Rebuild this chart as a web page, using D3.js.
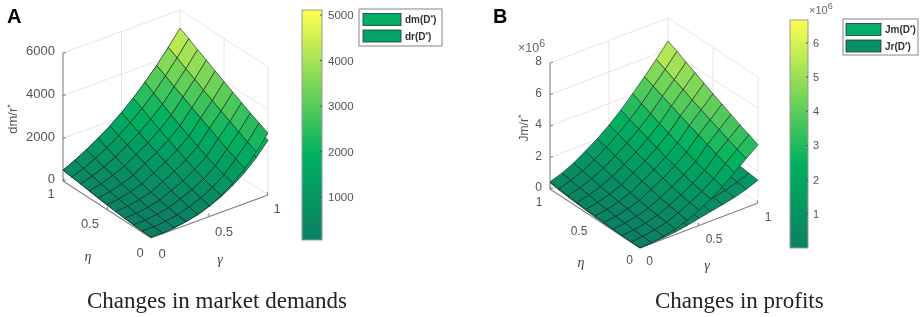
<!DOCTYPE html>
<html><head><meta charset="utf-8">
<style>html,body{margin:0;padding:0;background:#fff}svg{display:block;filter:blur(0.35px)}</style>
<script src="https://cdn.jsdelivr.net/npm/d3@7/dist/d3.min.js"></script>
</head><body><div id="chart"></div>
<script>
// ---- data ----
const gridSteps = [0,0.1,0.2,0.3,0.4,0.5,0.6,0.7,0.8,0.9,1];
const axisTicks = [0,0.5,1];
const zTicksA = [0,2000,4000,6000];
const zTicksB = [0,2,4,6,8];
const barTicksA = [1000,2000,3000,4000,5000];
const barTicksB = [1,2,3,4,5,6];
const legendA = ["dm","dr"];
const legendB = ["Jm","Jr"];
// rows: gamma = 0..1, columns: eta = 0..1
const dm = [
[50,60,90,125,170,220,275,335,400,455,515],
[30,52,97,148,215,289,370,467,563,659,770],
[80,110,169,238,328,427,535,664,793,922,1070],
[170,207,281,367,478,600,736,896,1056,1216,1400],
[300,388,491,623,770,917,1079,1241,1417,1594,1770],
[500,602,721,874,1044,1214,1401,1588,1792,1996,2200],
[790,903,1036,1206,1395,1584,1792,2000,2226,2453,2680],
[1160,1284,1428,1613,1819,2025,2252,2478,2726,2973,3220],
[1640,1834,2029,2245,2461,2677,2893,3130,3346,3584,3800],
[2220,2421,2621,2844,3067,3290,3513,3759,3982,4227,4450],
[2900,3103,3305,3530,3755,3980,4205,4453,4678,4925,5150]];
const dr = [
[40,50,80,115,160,210,265,325,390,445,505],
[25,48,93,145,212,286,367,465,561,658,768],
[70,100,160,230,321,420,530,660,790,920,1066],
[160,190,268,355,470,590,728,888,1050,1212,1396],
[280,370,475,608,757,906,1070,1233,1412,1590,1768],
[480,570,690,850,1024,1196,1385,1575,1782,1990,2195],
[730,845,985,1165,1355,1550,1762,1975,2208,2442,2675],
[1050,1185,1340,1535,1750,1965,2200,2435,2695,2955,3215],
[1450,1660,1875,2110,2345,2575,2810,3065,3295,3555,3795],
[1950,2180,2410,2660,2905,3150,3395,3660,3900,4165,4445],
[2560,2790,3015,3270,3520,3770,4020,4290,4540,4810,5100]];
const Jm = [
[0.01,0.02,0.05,0.08,0.12,0.16,0.21,0.27,0.33,0.39,0.46],
[0.05,0.07,0.11,0.16,0.22,0.28,0.36,0.45,0.53,0.62,0.72],
[0.18,0.21,0.26,0.32,0.41,0.50,0.59,0.71,0.83,0.95,1.08],
[0.36,0.40,0.47,0.55,0.66,0.78,0.91,1.06,1.22,1.37,1.55],
[0.62,0.71,0.81,0.93,1.08,1.22,1.38,1.54,1.71,1.88,2.05],
[0.98,1.08,1.19,1.34,1.51,1.67,1.85,2.04,2.23,2.43,2.63],
[1.40,1.51,1.65,1.82,2.01,2.20,2.41,2.62,2.84,3.07,3.30],
[1.90,2.03,2.18,2.37,2.59,2.80,3.04,3.28,3.53,3.79,4.05],
[2.50,2.71,2.92,3.16,3.39,3.62,3.86,4.11,4.35,4.61,4.84],
[3.10,3.33,3.56,3.82,4.07,4.33,4.58,4.87,5.12,5.40,5.66],
[3.70,3.96,4.21,4.50,4.78,5.06,5.35,5.66,5.94,6.26,6.54]];
const Jr = [
[0,0.01,0.02,0.04,0.06,0.10,0.14,0.19,0.24,0.31,0.40],
[0.03,0.08,0.12,0.18,0.23,0.28,0.33,0.39,0.44,0.50,0.55],
[0.08,0.14,0.20,0.26,0.32,0.39,0.45,0.52,0.59,0.66,0.72],
[0.16,0.23,0.29,0.37,0.44,0.52,0.59,0.67,0.74,0.83,0.90],
[0.28,0.35,0.42,0.50,0.58,0.66,0.74,0.83,0.91,1.00,1.08],
[0.45,0.52,0.60,0.68,0.76,0.84,0.93,1.01,1.10,1.19,1.27],
[0.60,0.68,0.75,0.84,0.93,1.01,1.10,1.19,1.28,1.37,1.46],
[0.75,0.83,0.91,1.00,1.09,1.18,1.27,1.37,1.46,1.56,1.65],
[0.92,1.00,1.09,1.18,1.27,1.37,1.46,1.56,1.65,1.76,1.85],
[1.15,1.23,1.31,1.40,1.49,1.58,1.67,1.77,1.86,1.96,2.05],
[1.45,1.52,1.60,1.68,1.76,1.84,1.93,2.02,2.10,2.19,2.27]];

// ---- drawing ----
const svg = d3.select("#chart").append("svg").attr("width",920).attr("height",317);
const SANS = "'Liberation Sans',Arial,sans-serif", SERIF = "'Liberation Serif',serif";
const TXT = "#555";
const cmap = d3.scaleLinear().domain([0,0.37,1]).range(["#0c8064","#00b060","#ffff50"]);

function label(g,x,y,str,opt={}){
  return g.append("text").attr("x",x).attr("y",y).text(str)
    .attr("font-family",opt.family||SANS).attr("font-size",opt.size||11.5)
    .attr("font-style",opt.italic?"italic":null).attr("font-weight",opt.bold?"bold":null)
    .attr("fill",opt.fill||TXT).attr("text-anchor",opt.anchor||"middle");
}
function drawPanel(c){
  const g = svg.append("g");
  const gx=d3.scaleLinear().domain([0,1]).range([0,c.gDx]), gy=d3.scaleLinear().domain([0,1]).range([0,c.gDy]);
  const ex=d3.scaleLinear().domain([0,1]).range([0,c.eDx]), ey=d3.scaleLinear().domain([0,1]).range([0,c.eDy]);
  const zy=d3.scaleLinear().domain([0,c.zMax]).range([0,-c.zPx]);
  const px=(a,b,z)=>[c.ox+gx(a)+ex(b), c.oy+gy(a)+ey(b)+zy(z)];
  const line=d3.line();
  const seg=(p,q,col,w)=>g.append("path").attr("d",line([p,q])).attr("stroke",col).attr("stroke-width",w).attr("fill","none");
  const WALL="#e6e6e6", AXIS="#808080";
  // back walls and floor
  c.zTicks.forEach(t=>{ if(t>0){ seg(px(0,1,t),px(1,1,t),WALL,1); seg(px(1,1,t),px(1,0,t),WALL,1);} });
  seg(px(0,1,0),px(1,1,0),WALL,1); seg(px(1,1,0),px(1,0,0),WALL,1);
  seg(px(1,1,0),px(1,1,c.zMax),WALL,1); seg(px(1,0,0),px(1,0,c.zMax),WALL,1);
  seg(px(0.5,1,0),px(0.5,1,c.zMax),WALL,1); seg(px(1,0.5,0),px(1,0.5,c.zMax),WALL,1);
  seg(px(0.5,0,0),px(0.5,1,0),WALL,1); seg(px(0,0.5,0),px(1,0.5,0),WALL,1);
  // axes
  seg(px(0,1,0),px(0,1,c.zMax),AXIS,1.1);
  seg(px(0,0,0),px(1,0,0),AXIS,1.1);
  seg(px(0,0,0),px(0,1,0),AXIS,1.1);
  c.zTicks.forEach(t=>{const p=px(0,1,t); seg(p,[p[0]+3,p[1]-1],AXIS,1); label(g,p[0]-8,p[1]+c.zLabelDy,c.zFmt(t),{anchor:"end",size:c.tickSize});});
  axisTicks.forEach(t=>{
    let p=px(t,0,0); seg(p,[p[0]-1,p[1]-3],AXIS,1);
    p=px(0,t,0); seg(p,[p[0]+1,p[1]-3],AXIS,1);
  });
  c.gLabels.forEach((o,i)=>label(g,o[0],o[1],String(axisTicks[i]),{size:c.tickSize}));
  c.eLabels.forEach((o,i)=>label(g,o[0],o[1],String(axisTicks[i]),{size:c.tickSize}));
  // surfaces, far corner first
  const norm=d3.scaleLinear().domain(c.barDomain).range([0,1]).clamp(true);
  c.surfaces.forEach(Z=>{
    const faces=[];
    d3.range(gridSteps.length-1).forEach(i=>d3.range(gridSteps.length-1).forEach(j=>faces.push({i,j})));
    faces.sort((a,b)=>(b.i+b.j)-(a.i+a.j));
    g.append("g").selectAll("path").data(faces).join("path")
      .attr("d",f=>line([[f.i,f.j],[f.i+1,f.j],[f.i+1,f.j+1],[f.i,f.j+1]].map(v=>px(gridSteps[v[0]],gridSteps[v[1]],Z[v[0]][v[1]])))+"Z")
      .attr("fill",f=>cmap(norm(Z[f.i][f.j])))
      .attr("stroke","#142c24").attr("stroke-width",0.62).attr("stroke-linejoin","round");
  });
  // axis text
  const yl=label(g,0,0,c.zTitle,{size:c.tickSize}).attr("transform",`translate(${c.zTitleX},${c.zTitleY}) rotate(-90)`);
  yl.append("tspan").text("*").attr("dy",-4).attr("font-size",9);
  label(g,c.etaPos[0],c.etaPos[1],"η",{family:SERIF,italic:true,size:14,fill:"#444"});
  label(g,c.gammaPos[0],c.gammaPos[1],"γ",{family:SERIF,italic:true,size:14,fill:"#444"});
  if(c.expPos) expo(g,c.expPos,12.5);
  label(g,c.letter[1],c.letter[2],c.letter[0],{bold:true,size:20,fill:"#000",anchor:"start"});
  label(g,c.title[1],c.title[2],c.title[0],{family:SERIF,size:23,fill:"#222",anchor:"start"});
  // colorbar
  const bar=c.bar;
  const by=d3.scaleLinear().domain(c.barDomain).range([bar.y1,bar.y0]);
  const defs=svg.append("defs"), id="cb"+c.letter[0];
  defs.append("linearGradient").attr("id",id).attr("x1",0).attr("x2",0).attr("y1",1).attr("y2",0)
    .selectAll("stop").data(cmap.domain()).join("stop").attr("offset",d=>d).attr("stop-color",d=>cmap(d));
  g.append("rect").attr("x",bar.x).attr("y",bar.y0).attr("width",bar.w).attr("height",bar.y1-bar.y0)
    .attr("fill",`url(#${id})`).attr("stroke","#999").attr("stroke-width",1);
  c.barTicks.forEach(t=>{
    seg([bar.x+bar.w-2,by(t)],[bar.x+bar.w,by(t)],"#555",1);
    label(g,bar.x+bar.w+bar.lab,by(t)+4,c.barFmt(t),{anchor:"start",size:bar.size});
  });
  if(bar.expPos) expo(g,bar.expPos,11);
  // legend
  const l=c.legend;
  g.append("rect").attr("x",l.x).attr("y",l.y).attr("width",l.w).attr("height",l.h).attr("fill","#fff").attr("stroke","#999").attr("stroke-width",1.2);
  c.legendNames.forEach((n,i)=>{
    const y=l.py[i];
    g.append("rect").attr("x",l.px).attr("y",y).attr("width",l.pw).attr("height",l.ph)
      .attr("fill",l.colors[i]).attr("stroke","#1c3a30").attr("stroke-width",0.8);
    const t=label(g,l.px+l.pw+4,y+l.ph-2.5,n+"(D",{anchor:"start",size:10,fill:"#333",bold:true});
    t.append("tspan").text("*").attr("dy",-3).attr("font-size",6.5);
    t.append("tspan").text(")").attr("dy",3);
  });
}
function expo(g,p,s){
  const t=label(g,p[0],p[1],"×10",{anchor:"start",size:s,fill:"#666"});
  t.append("tspan").text("6").attr("dy",-5).attr("font-size",s-2);
}
const intFmt=d=>String(d);
drawPanel({
  ox:151,oy:238,gDx:117,gDy:-43,eDx:-88,eDy:-57,zMax:6000,zPx:128,zTicks:zTicksA,zFmt:intFmt,zLabelDy:2.4,tickSize:13,
  surfaces:[dr,dm],barDomain:[55,5110],barTicks:barTicksA,barFmt:intFmt,
  bar:{x:302,w:20,y0:10,y1:240,lab:6,size:11.5},
  gLabels:[[162,258],[224,235.5],[277,212.5]],eLabels:[[140,257],[90,227.5],[51,198]],
  etaPos:[88,261],gammaPos:[220,264],zTitle:"dm/r",zTitleX:17,zTitleY:119,
  letter:["A",7,23],title:["Changes in market demands",87,308],
  legend:{x:359,y:9,w:83,h:37,px:363,pw:38,ph:12,py:[13.5,30],colors:["#00ae66","#06a268"]},legendNames:legendA
});
drawPanel({
  ox:640,oy:248,gDx:118,gDy:-45,eDx:-90,eDy:-59,zMax:8,zPx:126,zTicks:zTicksB,zFmt:intFmt,zLabelDy:2,tickSize:12,
  surfaces:[Jr,Jm],barDomain:[0,6.67],barTicks:barTicksB,barFmt:intFmt,expPos:[518,52],
  bar:{x:790,w:18,y0:20,y1:248,lab:5,size:11,expPos:[809,14]},
  gLabels:[[649.5,265],[714,242.5],[768,220.5]],eLabels:[[629.5,263.5],[579,234.5],[539,205.5]],
  etaPos:[581,267],gammaPos:[707,270],zTitle:"Jm/r",zTitleX:528,zTitleY:128,
  letter:["B",493,23],title:["Changes in profits",655,308],
  legend:{x:843,y:19,w:75,h:36,px:846,pw:35,ph:12,py:[23.5,40],colors:["#04ae68","#088f66"]},legendNames:legendB
});
</script></body></html>
